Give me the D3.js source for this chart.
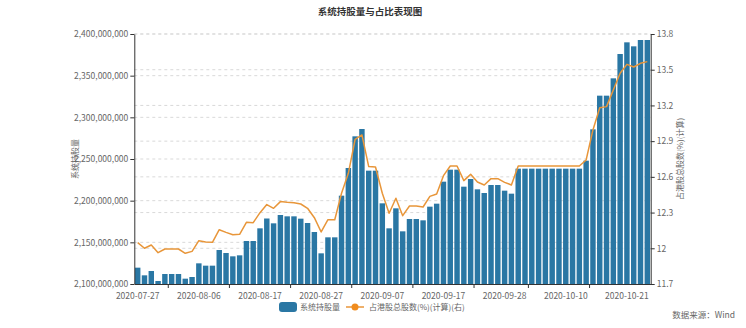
<!DOCTYPE html>
<html><head><meta charset="utf-8">
<script src="https://cdn.jsdelivr.net/npm/d3@7/dist/d3.min.js"></script>
<style>
body{margin:0;background:#fff;}
svg{display:block;font-family:"Noto Sans CJK SC","Noto Sans",sans-serif;}
</style>
</head><body>
<svg id="chart" width="746" height="328"></svg>
<script>
const dates = ["2020-07-27","2020-07-28","2020-07-29","2020-07-30","2020-07-31","2020-08-01","2020-08-03","2020-08-04","2020-08-05","2020-08-06",
"2020-08-07","2020-08-08","2020-08-10","2020-08-11","2020-08-12","2020-08-13","2020-08-14","2020-08-15","2020-08-17",
"2020-08-18","2020-08-19","2020-08-20","2020-08-21","2020-08-22","2020-08-24","2020-08-25","2020-08-26","2020-08-27",
"2020-08-28","2020-08-29","2020-08-31","2020-09-01","2020-09-02","2020-09-03","2020-09-04","2020-09-05","2020-09-07",
"2020-09-08","2020-09-09","2020-09-10","2020-09-11","2020-09-12","2020-09-14","2020-09-15","2020-09-16","2020-09-17",
"2020-09-18","2020-09-19","2020-09-21","2020-09-22","2020-09-23","2020-09-24","2020-09-25","2020-09-26","2020-09-28",
"2020-09-29","2020-09-30","2020-10-03","2020-10-05","2020-10-06","2020-10-07","2020-10-08","2020-10-09","2020-10-10",
"2020-10-12","2020-10-13","2020-10-14","2020-10-15","2020-10-16","2020-10-17","2020-10-19","2020-10-20","2020-10-21",
"2020-10-22","2020-10-23","2020-10-24"];

const holdings = [2119600000,2110400000,2115600000,2103600000,2112000000,2112000000,2112000000,2106400000,2108400000,2124800000,
2122000000,2122000000,2140800000,2137200000,2133200000,2134400000,2151600000,2151600000,2166800000,2178600000,
2172800000,2182800000,2181200000,2181200000,2178400000,2173200000,2162400000,2136800000,2156000000,2156000000,
2206000000,2239200000,2277200000,2286000000,2236000000,2236000000,2196800000,2166800000,2190800000,2163200000,
2178000000,2178000000,2176400000,2192800000,2196400000,2222800000,2237200000,2237200000,2216800000,2226000000,
2213600000,2209200000,2218800000,2218800000,2212000000,2208400000,2238400000,2238400000,2238400000,2238400000,
2238400000,2238400000,2238400000,2238400000,2238400000,2238400000,2248000000,2285600000,2326000000,2326000000,
2346800000,2376000000,2390000000,2385200000,2392800000,2392800000];

const ratio = [12.047,12.0,12.028,11.963,11.994,11.994,11.994,11.958,11.974,12.064,
12.053,12.05,12.156,12.134,12.114,12.117,12.218,12.215,12.299,12.367,
12.336,12.392,12.386,12.383,12.372,12.336,12.257,12.137,12.24,12.24,
12.462,12.63,12.915,12.952,12.686,12.683,12.462,12.294,12.42,12.274,
12.355,12.355,12.347,12.436,12.456,12.61,12.691,12.691,12.568,12.621,
12.557,12.532,12.585,12.585,12.554,12.532,12.691,12.691,12.691,12.691,
12.691,12.691,12.691,12.691,12.691,12.691,12.742,12.994,13.181,13.19,
13.33,13.47,13.545,13.523,13.554,13.568];

const leftTicks = [2100000000,2150000000,2200000000,2250000000,2300000000,2350000000,2400000000];
const rightTicks = [11.7,12,12.3,12.6,12.9,13.2,13.5,13.8];
const labelDates = ["2020-07-27","2020-08-06","2020-08-17","2020-08-27","2020-09-07","2020-09-17","2020-09-28","2020-10-10","2020-10-21"];
const tickDates = ["2020-08-01","2020-08-12","2020-08-22","2020-09-02","2020-09-12","2020-09-23","2020-10-05","2020-10-15"];

const title = "系统持股量与占比表现图";
const seriesNames = ["系统持股量","占港股总股数(%)(计算)(右)"];
const leftName = "系统持股量";
const rightName = "占港股总股数(%)(计算)";
const source = "数据来源：Wind";

const W = 746, H = 328;
const m = {top:34, right:95.3, bottom:44, left:134.3};
const svg = d3.select("#chart");
const pw = W - m.left - m.right, ph = H - m.top - m.bottom;

const x = d3.scaleBand().domain(dates).range([m.left, m.left + pw]).padding(0);
const yL = d3.scaleLinear().domain([2100000000, 2400000000]).range([m.top + ph, m.top]);
const yR = d3.scaleLinear().domain([11.7, 13.8]).range([m.top + ph, m.top]);

const barColor = "#2a77a4", lineColor = "#e8963a", textColor = "#666";

// grid
const grid = svg.append("g");
grid.selectAll("line.gl").data(leftTicks.slice(1)).join("line")
  .attr("x1", m.left).attr("x2", m.left + pw)
  .attr("y1", d => yL(d)).attr("y2", d => yL(d))
  .attr("stroke", "#d9d9d9").attr("stroke-dasharray", "3,3").attr("stroke-width", 1);
grid.selectAll("line.gr").data(rightTicks.slice(1)).join("line")
  .attr("x1", m.left).attr("x2", m.left + pw)
  .attr("y1", d => yR(d)).attr("y2", d => yR(d))
  .attr("stroke", "#d9d9d9").attr("stroke-dasharray", "3,3").attr("stroke-width", 1);

// bars
const bw = x.bandwidth() * 0.8;
svg.append("g").selectAll("rect").data(dates).join("rect")
  .attr("x", (d) => x(d) + (x.bandwidth() - bw) / 2)
  .attr("width", bw)
  .attr("y", (d, i) => yL(holdings[i]))
  .attr("height", (d, i) => yL(2100000000) - yL(holdings[i]))
  .attr("fill", barColor);

// line
const line = d3.line()
  .x((d, i) => x(dates[i]) + x.bandwidth() / 2)
  .y(d => yR(d));
svg.append("path").datum(ratio).attr("d", line)
  .attr("fill", "none").attr("stroke", lineColor).attr("stroke-width", 1.5)
  .attr("stroke-linejoin", "round");

// axes
const axL = svg.append("g").attr("transform", `translate(${m.left},0)`)
  .call(d3.axisLeft(yL).tickValues(leftTicks).tickFormat(d3.format(",")).tickSize(4).tickSizeOuter(0).tickPadding(2));
const axR = svg.append("g").attr("transform", `translate(${m.left + pw},0)`)
  .call(d3.axisRight(yR).tickValues(rightTicks).tickFormat(d => String(d)).tickSize(4).tickSizeOuter(0).tickPadding(2));
const axB = svg.append("g").attr("transform", `translate(0,${m.top + ph})`)
  .call(d3.axisBottom(x).tickValues(labelDates).tickSize(0).tickSizeOuter(0).tickPadding(9));
axB.append("g").selectAll("line").data(tickDates).join("line")
  .attr("x1", d => x(d)).attr("x2", d => x(d)).attr("y1", 0).attr("y2", 4)
  .attr("stroke", "#333");

[axL, axR, axB].forEach(a => {
  a.select(".domain").attr("stroke", "#333");
  a.selectAll(".tick line").attr("stroke", "#333");
  a.selectAll("text").attr("fill", textColor).style("font-size", "8.5px")
    .style("font-family", '"Noto Sans CJK SC","Noto Sans",sans-serif');
});

// axis names
svg.append("text").attr("transform", `translate(78,${m.top + ph / 2}) rotate(-90)`)
  .attr("text-anchor", "middle").attr("fill", textColor).style("font-size", "8px").text(leftName);
svg.append("text").attr("transform", `translate(683,${m.top + ph / 2}) rotate(-90)`)
  .attr("text-anchor", "middle").attr("fill", textColor).style("font-size", "8px").text(rightName);

// title
svg.append("text").attr("x", 370).attr("y", 15).attr("text-anchor", "middle")
  .attr("fill", "#333").style("font-size", "9.5px").style("font-weight", "bold").text(title);

// legend
const lg = svg.append("g");
lg.append("rect").attr("x", 279).attr("y", 302).attr("width", 18).attr("height", 10).attr("rx", 3)
  .attr("fill", barColor);
lg.append("text").attr("x", 300).attr("y", 310).attr("fill", textColor).style("font-size", "8px").text(seriesNames[0]);
lg.append("line").attr("x1", 346).attr("x2", 364).attr("y1", 307).attr("y2", 307)
  .attr("stroke", lineColor).attr("stroke-width", 1.5);
lg.append("circle").attr("cx", 355).attr("cy", 307).attr("r", 3.5).attr("fill", "#f08c1e");
lg.append("text").attr("x", 369).attr("y", 310).attr("fill", textColor).style("font-size", "8px").text(seriesNames[1]);

// source
svg.append("text").attr("x", 735).attr("y", 318).attr("text-anchor", "end")
  .attr("fill", textColor).style("font-size", "8.5px").text(source);
</script>
</body></html>
